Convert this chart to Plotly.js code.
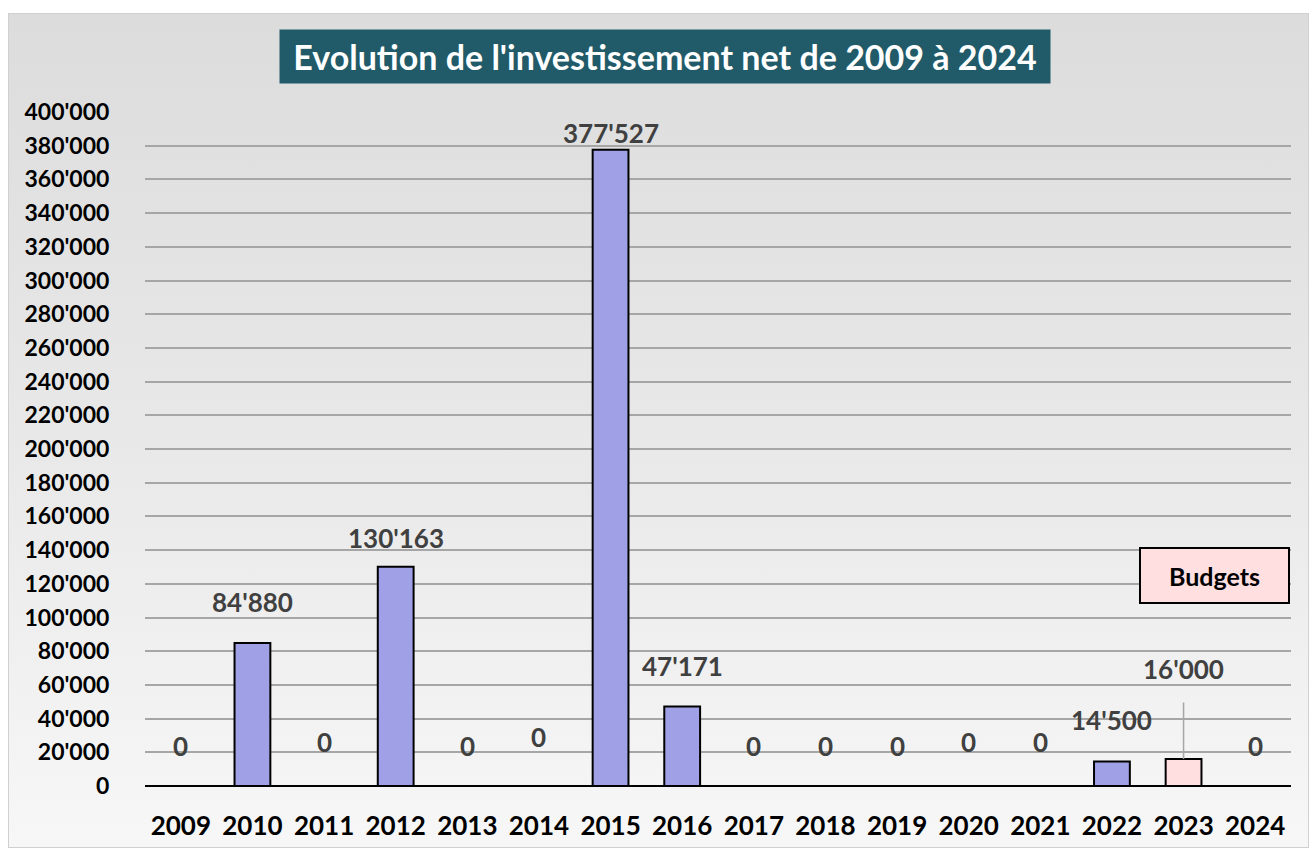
<!DOCTYPE html>
<html><head><meta charset="utf-8">
<script src="https://cdn.plot.ly/plotly-3.0.1.min.js"></script>
<style>
html,body{margin:0;padding:0;background:#fff;}
#bg{position:absolute;left:8px;top:13px;width:1299px;height:833px;border:1px solid #d0d0d0;background:linear-gradient(to bottom,#dcdcdc 0%,#e8e8e8 50%,#f7f7f7 100%);}
#chart{position:absolute;left:0;top:0;width:1309px;height:848px;}
</style></head>
<body><div id="bg"></div><div id="chart"></div>
<script>
const years = ['2009','2010','2011','2012','2013','2014','2015','2016','2017','2018','2019','2020','2021','2022','2023','2024'];
const values = [0,84880,0,130163,0,0,377527,47171,0,0,0,0,0,14500,16000,0];
const isBudget = [false,false,false,false,false,false,false,false,false,false,false,false,false,false,true,false];
const labelOffsets = [40,41,44,29,40,49,17,41,40,40,40,44,44,42,90,40];
const yTicks = [0,20000,40000,60000,80000,100000,120000,140000,160000,180000,200000,220000,240000,260000,280000,300000,320000,340000,360000,380000,400000];

const fmt = v => String(v).replace(/\B(?=(\d{3})+(?!\d))/g, "'");
const FONT = 'Lato, "Open Sans", sans-serif';

const trace = {
  type:'bar', x:years, y:values, width:0.5,
  marker:{color:isBudget.map(b=>b?'#ffdfe0':'#a0a0e6'), line:{color:'#000', width:2}},
  hoverinfo:'skip'
};

const annotations = years.map((yr,i)=>{
  const a = {x:i, y:values[i], xref:'x', yref:'y', text:fmt(values[i]),
    showarrow:false, yshift:labelOffsets[i], yanchor:'middle',
    font:{family:FONT, size:26, color:'#404040', weight:'bold'}};
  if(isBudget[i]){
    a.showarrow=true; a.ax=0; a.ay=-labelOffsets[i]; a.yshift=0;
    a.arrowhead=0; a.arrowcolor='#a6a6a6'; a.arrowwidth=1.5; a.standoff=0; a.startstandoff=16;
  }
  return a;
});
annotations.push({xref:'paper', yref:'paper', x:(665-145)/1146, y:(786-56)/674, xanchor:'center', yanchor:'middle',
  text:"Evolution de l'investissement net de 2009 à 2024", showarrow:false,
  bgcolor:'#215a68', borderpad:6, width:758,
  font:{family:FONT, size:34, color:'#fff', weight:'bold'}});
annotations.push({xref:'paper', yref:'paper', x:(1214-145)/1146, y:(786-575)/674, xanchor:'center', yanchor:'middle',
  text:'Budgets', showarrow:false, bgcolor:'#ffdfe0', bordercolor:'#000', borderwidth:2,
  width:145, height:51,
  font:{family:FONT, size:25, color:'#000', weight:'bold'}});

const layout = {
  width:1309, height:848,
  margin:{l:145, r:18, t:112, b:62},
  paper_bgcolor:'rgba(0,0,0,0)', plot_bgcolor:'rgba(0,0,0,0)',
  separators:".'",
  showlegend:false,
  xaxis:{type:'category', range:[-0.5,15.5], autorange:false,
    tickfont:{family:FONT, size:26, color:'#000', weight:'bold'},
    showgrid:false, showline:false, zeroline:false, ticks:'outside', ticklen:17, tickcolor:'rgba(0,0,0,0)'},
  yaxis:{range:[0,400000], autorange:false, tickvals:yTicks, tickformat:',d',
    tickfont:{family:FONT, size:23, color:'#000', weight:'bold'},
    showgrid:true, gridcolor:'#a6a6a6', gridwidth:2,
    zeroline:true, zerolinecolor:'#000', zerolinewidth:2.5,
    ticks:'outside', ticklen:30, tickcolor:'rgba(0,0,0,0)'},
  annotations:annotations
};
Plotly.newPlot('chart',[trace],layout,{displayModeBar:false,staticPlot:true});
</script></body></html>
